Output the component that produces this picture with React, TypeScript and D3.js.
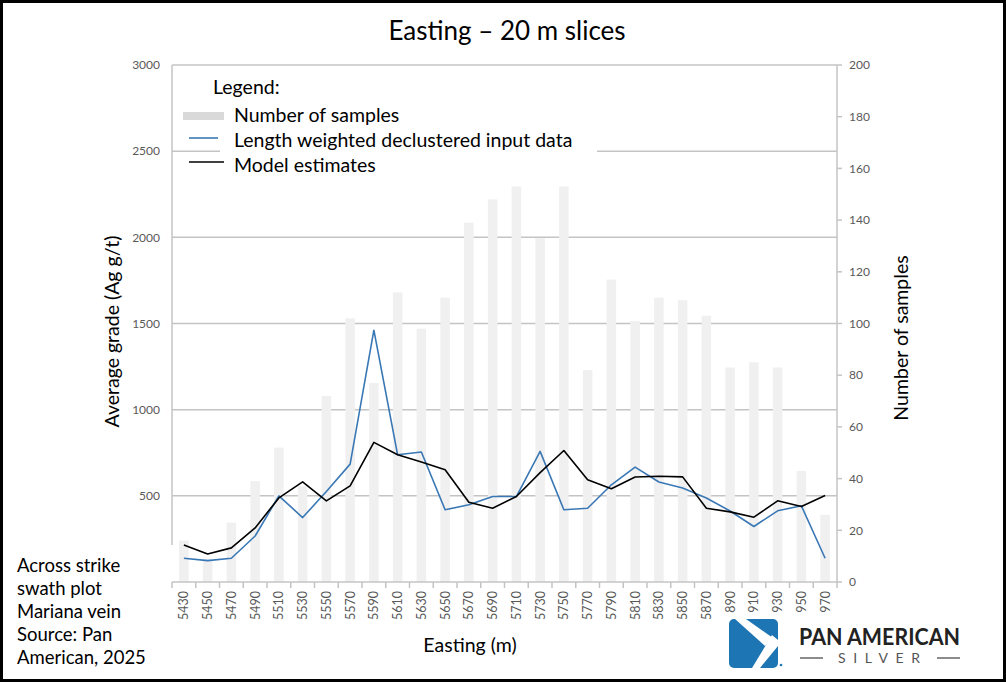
import * as d3 from "d3";

const CATEGORIES = [
  "5430", "5450", "5470", "5490", "5510", "5530", "5550", "5570", "5590", "5610",
  "5630", "5650", "5670", "5690", "5710", "5730", "5750", "5770", "5790", "5810",
  "5830", "5850", "5870", "890", "910", "930", "950", "970",
];

// number of samples (right axis)
const SAMPLES = [
  16, 9, 23, 39, 52, 37, 72, 102, 77, 112,
  98, 110, 139, 148, 153, 133, 153, 82, 117, 101,
  110, 109, 103, 83, 85, 83, 43, 26,
];

// length weighted declustered input data (Ag g/t)
const INPUT_DATA = [
  138, 124, 138, 267, 500, 374, 525, 684, 1461, 738,
  754, 419, 448, 496, 496, 758, 419, 428, 564, 667,
  580, 545, 487, 412, 322, 413, 442, 138,
];

// model estimates (Ag g/t)
const MODEL = [
  215, 163, 198, 314, 488, 581, 471, 558, 810, 738,
  696, 651, 463, 428, 496, 635, 763, 593, 541, 609,
  614, 610, 428, 407, 376, 471, 438, 502,
];

const LEFT_TICKS = [500, 1000, 1500, 2000, 2500, 3000];
const RIGHT_TICKS = d3.range(0, 201, 20);

const NOTE_LINES = ["Across strike", "swath plot", "Mariana vein", "Source: Pan", "American, 2025"];

const W = 1006;
const H = 682;
const FONT = "Lato, 'Open Sans', sans-serif";
const GRID = "#c4c4c4";
const TICK_TXT = "#595959";
const BLUE = "#3a78b5";

export default function App() {
  const left = 172;
  const right = 837;
  const top = 65;
  const bottom = 582;

  const x = d3.scaleBand<string>().domain(CATEGORIES).range([left, right]).paddingInner(0.6).paddingOuter(0.3);
  const yL = d3.scaleLinear().domain([0, 3000]).range([bottom, top]);
  const yR = d3.scaleLinear().domain([0, 200]).range([bottom, top]);
  const step = x.step();
  const cx = (c: string) => (x(c) ?? 0) + x.bandwidth() / 2;

  const line = d3.line<number>().x((_, i) => cx(CATEGORIES[i])).y(d => yL(d));

  return (
    <svg width={W} height={H} style={{ position: "absolute", left: 0, top: 0, display: "block", background: "#fff" }}>
      <rect x={0} y={0} width={W} height={H} fill="#fff" />

      {/* title */}
      <text x={507} y={40} textAnchor="middle" fontFamily={FONT} fontSize={26} fill="#000">
        Easting – 20 m slices
      </text>

      {/* gridlines */}
      {LEFT_TICKS.map(t => (
        <line key={t} x1={left} x2={right} y1={yL(t)} y2={yL(t)} stroke={GRID} strokeWidth={1.5} />
      ))}

      {/* bars */}
      {SAMPLES.map((v, i) => (
        <rect key={i} x={x(CATEGORIES[i])} y={yR(v)} width={x.bandwidth()} height={bottom - yR(v)} fill="#f0f0f0" />
      ))}

      {/* lines */}
      <path d={line(INPUT_DATA) ?? ""} fill="none" stroke={BLUE} strokeWidth={1.6} strokeLinejoin="round" />
      <path d={line(MODEL) ?? ""} fill="none" stroke="#000" strokeWidth={1.6} strokeLinejoin="round" />

      {/* left axis */}
      <line x1={left} x2={left} y1={top} y2={545} stroke={GRID} strokeWidth={1.5} />
      {LEFT_TICKS.map(t => (
        <text key={t} x={160} y={yL(t)} dy="0.35em" textAnchor="end" fontFamily={FONT} fontSize={12} fill={TICK_TXT}>
          {t}
        </text>
      ))}
      <text transform={`translate(119,${(top + bottom) / 2 + 8}) rotate(-90)`} textAnchor="middle" fontFamily={FONT} fontSize={19.5} fill="#000">
        Average grade (Ag g/t)
      </text>

      {/* right axis */}
      <line x1={right} x2={right} y1={top} y2={bottom} stroke={GRID} strokeWidth={1.5} />
      {RIGHT_TICKS.map(t => (
        <g key={t}>
          <line x1={right} x2={right + 5} y1={yR(t)} y2={yR(t)} stroke={GRID} strokeWidth={1.5} />
          <text x={849} y={yR(t)} dy="0.35em" fontFamily={FONT} fontSize={12} fill={TICK_TXT}>
            {t}
          </text>
        </g>
      ))}
      <text transform={`translate(908,${338}) rotate(-90)`} textAnchor="middle" fontFamily={FONT} fontSize={19.5} fill="#000">
        Number of samples
      </text>

      {/* bottom axis */}
      <line x1={left} x2={right} y1={bottom} y2={bottom} stroke={GRID} strokeWidth={1.5} />
      {d3.range(CATEGORIES.length + 1).map(i => (
        <line key={i} x1={left + i * step} x2={left + i * step} y1={bottom} y2={bottom + 6} stroke={GRID} strokeWidth={1.5} />
      ))}
      {CATEGORIES.map(c => (
        <text key={c} transform={`translate(${cx(c)},591) rotate(-90)`} textAnchor="end" dy="0.35em" fontFamily={FONT} fontSize={12.5} fill={TICK_TXT}>
          {c}
        </text>
      ))}
      <text x={470} y={652} textAnchor="middle" fontFamily={FONT} fontSize={19.5} fill="#000">
        Easting (m)
      </text>

      {/* legend */}
      <rect x={220} y={70} width={377} height={108} fill="#fff" />
      <text x={213} y={94} fontFamily={FONT} fontSize={19.5} fill="#000">Legend:</text>
      <rect x={183} y={112} width={41} height={8} fill="#d9d9d9" />
      <text x={234} y={122} fontFamily={FONT} fontSize={19.5} fill="#000">Number of samples</text>
      <line x1={189} x2={218} y1={138} y2={138} stroke={BLUE} strokeWidth={1.6} />
      <text x={234} y={147} fontFamily={FONT} fontSize={19.5} fill="#000">Length weighted declustered input data</text>
      <line x1={189} x2={224} y1={162} y2={162} stroke="#000" strokeWidth={1.6} />
      <text x={234} y={172} fontFamily={FONT} fontSize={19.5} fill="#000">Model estimates</text>

      {/* note */}
      {NOTE_LINES.map((t, i) => (
        <text key={t} x={17} y={572 + i * 23} fontFamily={FONT} fontSize={18.5} fill="#000">
          {t}
        </text>
      ))}

      {/* logo */}
      <g transform="translate(729,619)">
        <rect x={0} y={0} width={49} height={49} rx={5} fill="#1d75b3" />
        <polygon points="6,0 17,0 44,19 36,27" fill="#fff" />
        <polygon points="43,16 49,21 49,27 31,49 23,49" fill="#fff" />
        <circle cx={52} cy={46} r={1.3} fill="#1d75b3" />
      </g>
      <text x={799} y={645} fontFamily={FONT} fontWeight={700} fontSize={23} fill="#222" textLength={161} lengthAdjust="spacingAndGlyphs">
        PAN AMERICAN
      </text>
      <line x1={800} x2={823} y1={658} y2={658} stroke="#666" strokeWidth={1.5} />
      <line x1={937} x2={960} y1={658} y2={658} stroke="#666" strokeWidth={1.5} />
      <text x={838} y={663} fontFamily={FONT} fontSize={14} fill="#555" textLength={82} lengthAdjust="spacing">
        SILVER
      </text>

      {/* outer border */}
      <rect x={1.5} y={1.5} width={W - 3} height={H - 3} fill="none" stroke="#000" strokeWidth={3} />
    </svg>
  );
}
